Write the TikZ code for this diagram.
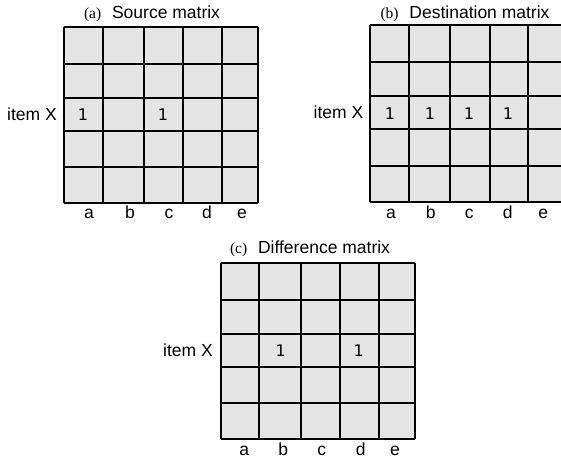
\documentclass[tikz,border=0pt]{standalone}
\usepackage{fontspec}
\setmainfont{Liberation Serif}
\setsansfont{Liberation Sans}
\newfontfamily\digitfont{DejaVu Sans}
\tikzset{
  cellfill/.style={fill=black!10},
  gridline/.style={line width=1.8pt, black},
  lab/.style={font=\sffamily\fontsize{17.5}{17.5}\selectfont, anchor=base, inner sep=0pt},
  one/.style={font=\digitfont\fontsize{16}{16}\selectfont, anchor=base, inner sep=0pt},
  ttl/.style={anchor=base, inner sep=0pt},
}
\newcommand\mygrid[4]{%
  \fill[cellfill] #3 rectangle #4;
  \foreach \c in {#1} {\draw[gridline] (\c,{\ylo}) -- (\c,{\yhi});}
  \foreach \r in {#2} {\draw[gridline] ({\xlo},\r) -- ({\xhi},\r);}
}
\newcommand\ttltext[2]{\fontsize{15.5}{15.5}\selectfont(#1)\hspace{0.7em}\sffamily\fontsize{17.5}{17.5}\selectfont #2}
\begin{document}
\begin{tikzpicture}[x=1pt,y=-1pt]
\useasboundingbox (0,0) rectangle (561,458);
\clip (0,0) rectangle (561,458);
% ---- (a)
\def\xlo{64}\def\xhi{258}\def\ylo{27}\def\yhi{203}
\mygrid{64,103,144,183,222,258}{27,64,98,131,167,203}{(64,27)}{(258,203)}
\node[ttl] (ta) at (152,18.5) {\ttltext{a}{Source matrix}};
\node[lab] (ia) at (32,120) {item X};
\node[one] (a1) at (83,120.5) {1};
\node[one] (a2) at (163,120.5) {1};
\foreach \x/\t in {89/a,130/b,169/c,207/d,242/e} {\node[lab] (la\t) at (\x,218) {\t};}
% ---- (b)
\def\xlo{370}\def\xhi{566}\def\ylo{25}\def\yhi{202}
\mygrid{370,409,450,490,528,566}{25,62,96,129,166,202}{(370,25)}{(566,202)}
\node[ttl] (tb) at (465,18.5) {\ttltext{b}{Destination matrix}};
\node[lab] (ib) at (338.5,118.5) {item X};
\foreach \x/\t in {390/a,430/b,469/c,508/d} {\node[one] (b\t) at (\x,119) {1};}
\foreach \x/\t in {391/a,430.7/b,469.3/c,507.7/d,543.3/e} {\node[lab] (lb\t) at (\x,218) {\t};}
% ---- (c)
\def\xlo{221}\def\xhi{415}\def\ylo{263}\def\yhi{439}
\mygrid{221,259,301,340,379,415}{263,300,334,367,403,439}{(221,263)}{(415,439)}
\node[ttl] (tc) at (310,253.5) {\ttltext{c}{Difference matrix}};
\node[lab] (ic) at (188,356.5) {item X};
\node[one] (c1) at (280.7,356) {1};
\node[one] (c2) at (358.7,356) {1};
\foreach \x/\t in {244.3/a,283.3/b,321.7/c,360.7/d,395/e} {\node[lab] (lc\t) at (\x,455) {\t};}
\end{tikzpicture}
\end{document}
